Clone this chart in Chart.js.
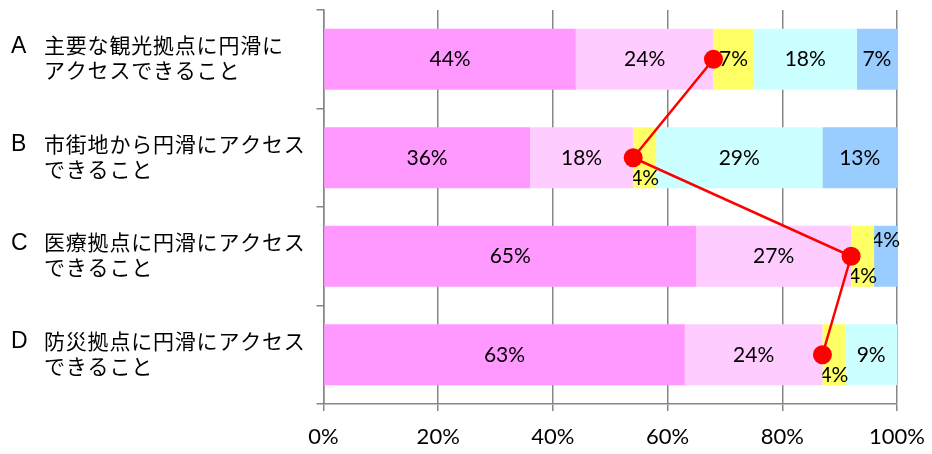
<!DOCTYPE html>
<html>
<head>
<meta charset="utf-8">
<script src="https://cdn.jsdelivr.net/npm/chart.js@4"></script>
<style>
  html, body { margin: 0; padding: 0; background: #fff; }
  #wrap { width: 932px; height: 454px; }
</style>
</head>
<body>
<div id="wrap"><canvas id="chart" width="932" height="454"></canvas></div>
<script>
// カテゴリ
const letters = ['A', 'B', 'C', 'D'];
const itemLines = [
    ['主要な観光拠点に円滑に', 'アクセスできること'],
    ['市街地から円滑にアクセス', 'できること'],
    ['医療拠点に円滑にアクセス', 'できること'],
    ['防災拠点に円滑にアクセス', 'できること']
];

// 回答の割合 (%)
const seg1 = [44, 36, 65, 63];
const seg2 = [24, 18, 27, 24];
const seg3 = [7, 4, 4, 4];
const seg4 = [18, 29, 0, 9];
const seg5 = [7, 13, 4, 0];

// 赤線 (上位2区分の累計)
const topTwo = [68, 54, 92, 87];

const xTicks = [0, 20, 40, 60, 80, 100];

const segColors = ['#FF99FF', '#FFCCFF', '#FFFF66', '#CCFFFF', '#99CCFF'];
const pctFont = '21px Lato, "Open Sans", sans-serif';

// 棒の中の数値ラベル
const barLabels = {
    id: 'barLabels',
    afterDatasetDraw(chart, args) {
        const ds = chart.data.datasets[args.index];
        if (ds.type === 'line') return;
        const ctx = chart.ctx;
        ctx.save();
        ctx.font = pctFont;
        ctx.fillStyle = '#000';
        ctx.textAlign = 'center';
        ctx.textBaseline = 'middle';
        args.meta.data.forEach((bar, i) => {
            const v = ds.data[i];
            if (!v) return;
            let dy = 0;
            // 小さい区分はラベルを上下にずらす
            if (v < 5 && args.index === 2) dy = 20;
            if (v < 5 && args.index === 4) dy = -16;
            ctx.fillText(v + '%', (bar.base + bar.x) / 2, bar.y + dy);
        });
        ctx.restore();
    }
};

// 左側の項目名
const itemNames = {
    id: 'itemNames',
    afterDraw(chart) {
        const ctx = chart.ctx;
        const y = chart.scales.y;
        ctx.save();
        ctx.fillStyle = '#000';
        ctx.textAlign = 'left';
        ctx.textBaseline = 'middle';
        letters.forEach((l, i) => {
            const cy = y.getPixelForValue(i) - 2;
            ctx.font = '23px "Liberation Sans", Arial, sans-serif';
            ctx.fillText(l, 11, cy - 11);
            ctx.font = '21px "Noto Sans CJK JP", sans-serif';
            ctx.letterSpacing = '0.8px';
            ctx.fillText(itemLines[i][0], 44, cy - 12);
            ctx.fillText(itemLines[i][1], 44, cy + 13);
            ctx.letterSpacing = '0px';
        });
        ctx.restore();
    }
};

const barDs = (data, i) => ({
    type: 'bar',
    data: data,
    backgroundColor: segColors[i],
    borderWidth: 0,
    stack: 'ans',
    order: 2,
    categoryPercentage: 0.62,
    barPercentage: 1
});

new Chart(document.getElementById('chart'), {
    data: {
        labels: letters,
        datasets: [
            barDs(seg1, 0), barDs(seg2, 1), barDs(seg3, 2), barDs(seg4, 3), barDs(seg5, 4),
            {
                type: 'line',
                data: topTwo,
                stack: 'line',
                order: 1,
                borderColor: '#FF0000',
                borderWidth: 2.5,
                pointRadius: 9.5,
                pointBackgroundColor: '#FF0000',
                pointBorderWidth: 0
            }
        ]
    },
    options: {
        indexAxis: 'y',
        responsive: false,
        animation: false,
        layout: { padding: { top: 10, right: 35, left: 0, bottom: 0 } },
        plugins: { legend: { display: false }, tooltip: { enabled: false } },
        scales: {
            x: {
                stacked: true,
                min: 0,
                max: 100,
                afterBuildTicks: scale => { scale.ticks = xTicks.map(v => ({ value: v })); },
                afterFit: scale => {
                    scale.height = 50;
                    scale.paddingLeft = 0;
                    scale.paddingRight = 0;
                },
                ticks: {
                    padding: 13,
                    color: '#000',
                    font: { family: 'Lato, "Open Sans", sans-serif', size: 22 },
                    callback: v => v + '%'
                },
                grid: { color: '#868686', lineWidth: 1.5, tickLength: 7 },
                border: { color: '#868686', width: 1.5 }
            },
            y: {
                stacked: true,
                afterFit: scale => { scale.width = 323.5; },
                ticks: { display: false },
                grid: { offset: true, drawOnChartArea: false, color: '#868686', lineWidth: 1.5, tickLength: 7 },
                border: { color: '#868686', width: 1.5 }
            }
        }
    },
    plugins: [barLabels, itemNames]
});
</script>
</body>
</html>
